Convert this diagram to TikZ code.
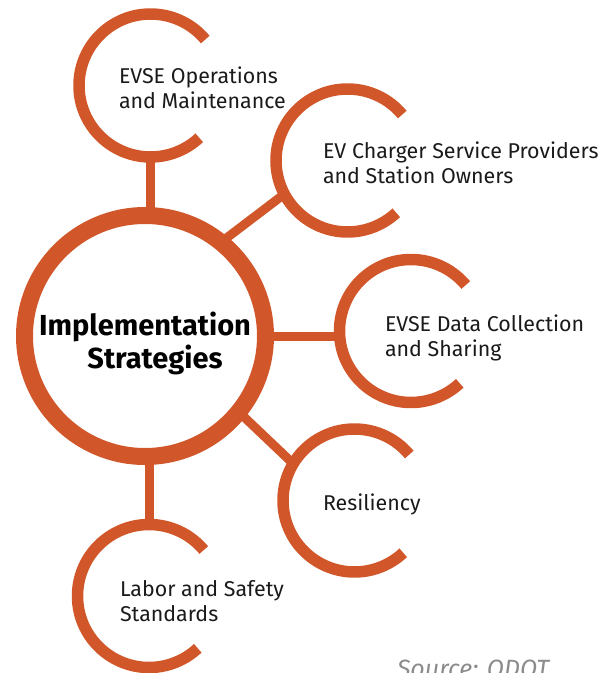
\documentclass[tikz,border=0pt]{standalone}
\usepackage{fontspec}
\setmainfont{Fira Sans}
\usetikzlibrary{positioning}
\definecolor{rust}{RGB}{209,87,42}
\definecolor{ink}{RGB}{26,26,26}
\tikzset{
  every node/.style={outer sep=0pt,inner sep=0pt},
  hub/.style={circle,minimum size=143pt},
  core/.style={circle,minimum size=241pt,draw=rust,line width=17pt},
  ring/.style={draw=rust,line width=11.5pt},
  link/.style={draw=rust,line width=9pt},
  topic/.style={anchor=west,align=left,text=ink,
    font=\fontsize{21.4}{24.5}\selectfont}
}

\begin{document}
\begin{tikzpicture}[x=1pt,y=1pt]
  \useasboundingbox (0,0) rectangle (613,-673);
  \clip (0,0) rectangle (613,-673);

  % centre and the five topics
  \node (Core)  [core] at (145,-336) {};
  \node (Ops)   [hub]  at (150.5,-85.5) {};
  \node (Cpo)   [hub]  at (347.5,-160.5) {};
  \node (Data)  [hub]  at (411,-331) {};
  \node (Res)   [hub]  at (354.5,-500.5) {};
  \node (Labor) [hub]  at (149,-596) {};

  \node (CoreText) [align=center,font=\bfseries\fontsize{29}{33}\selectfont]
    at ([yshift=-7pt]Core.center) {Implementation\\\hspace*{20pt}Strategies};

  \foreach \n in {Ops,Cpo,Data,Res,Labor}
    \draw [ring] (\n.40) arc [start angle=40,end angle=313,radius=71.5];

  \draw [link] (Ops.south) -- (Ops.south |- Core.north);
  \draw [link] (Core.51) -- (Cpo.208);
  \draw [link] (Core.east) -- (Core.east -| Data.west);
  \draw [link] (Core.-39) -- (Res.149);
  \draw [link] (Labor.north) -- (Labor.north |- Core.south);

  \node (OpsText)   [topic] at (119,-88)   {EVSE Operations\\and Maintenance};
  \node (CpoText)   [topic] at (323,-163)  {EV Charger Service Providers\\and Station Owners};
  \node (DataText)  [topic] at (385,-338)  {EVSE Data Collection\\and Sharing};
  \node (ResText)   [topic] at (323,-504)  {Resiliency};
  \node (LaborText) [topic] at (120,-601)  {Labor and Safety\\Standards};

  \node (Source) [anchor=base west,text=black!45,
    font=\itshape\fontsize{25}{30}\selectfont] at (397,-677) {Source: ODOT};
\end{tikzpicture}
\end{document}
